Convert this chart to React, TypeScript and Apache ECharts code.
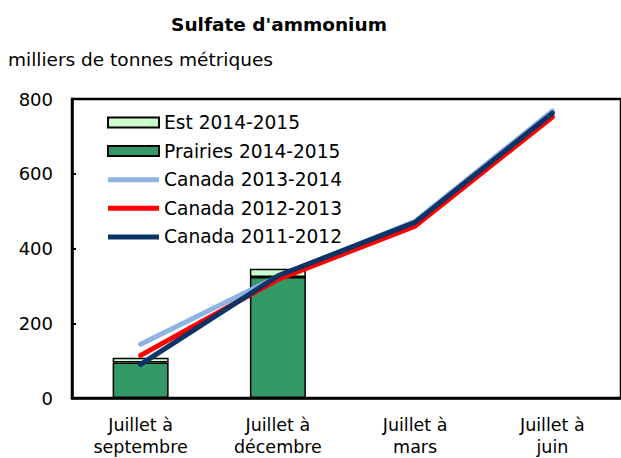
import React, { useEffect, useRef } from "react";
import * as echarts from "echarts";

const categories = ["Juillet à\nseptembre", "Juillet à\ndécembre", "Juillet à\nmars", "Juillet à\njuin"];
const prairies2014 = [95, 324, null, null];
const est2014 = [13, 22, null, null];
const canada2013 = [144, 325, 473, 768];
const canada2012 = [114, 317, 460, 752];
const canada2011 = [90, 327, 470, 762];
const yTicks = { min: 0, max: 800, interval: 200 };

const FONT = "DejaVu Sans";
const C13 = "#8db3e2";
const C12 = "#ff0000";
const C11 = "#0b3466";
const LINE_ICON = "path://M0,0L51,0L51,5L0,5Z";

export default function App() {
  const ref = useRef<HTMLDivElement>(null);
  useEffect(() => {
    if (!ref.current) return;
    const chart = echarts.init(ref.current, null, { renderer: "svg" });
    const lineSeries = (name: string, data: number[], color: string) => ({
      name,
      type: "line",
      data,
      symbol: "none",
      lineStyle: { color, width: 5, cap: "round", join: "round" },
      itemStyle: { color },
      z: 3,
    });
    const lineLegend = (name: string, color: string) => ({
      name,
      icon: LINE_ICON,
      itemStyle: { color, borderWidth: 0 },
    });
    chart.setOption({
      animation: false,
      textStyle: { fontFamily: FONT, color: "#000" },
      title: {
        text: "Sulfate d'ammonium",
        left: 274,
        top: 10,
        textAlign: "center",
        textStyle: { fontFamily: FONT, fontWeight: "bold", fontSize: 18.5, color: "#000" },
      },
      graphic: [
        {
          type: "text",
          left: 8,
          top: 50,
          style: { text: "milliers de tonnes métriques", font: `18.5px "${FONT}"`, fill: "#000" },
        },
      ],
      legend: {
        orient: "vertical",
        left: 107,
        top: 113,
        padding: 0,
        itemWidth: 51,
        itemHeight: 10,
        itemGap: 9.6,
        data: [
          { name: "Est 2014-2015", icon: "rect" },
          { name: "Prairies 2014-2015", icon: "rect" },
          lineLegend("Canada 2013-2014", C13),
          lineLegend("Canada 2012-2013", C12),
          lineLegend("Canada 2011-2012", C11),
        ],
        textStyle: { fontFamily: FONT, fontSize: 18.6, color: "#000", lineHeight: 18 },
      },
      grid: { left: 72, top: 99, width: 550, bottom: 57.5, show: true, borderColor: "#000", borderWidth: 2.5, backgroundColor: "transparent" },
      xAxis: {
        type: "category",
        data: categories,
        boundaryGap: true,
        axisLine: { lineStyle: { color: "#000", width: 2.5 } },
        axisTick: { inside: true, length: 6, lineStyle: { color: "#000", width: 2 } },
        axisLabel: { fontFamily: FONT, fontSize: 17.5, color: "#000", lineHeight: 22, margin: 16 },
      },
      yAxis: {
        type: "value",
        min: yTicks.min,
        max: yTicks.max,
        interval: yTicks.interval,
        axisLine: { show: true, lineStyle: { color: "#000", width: 2.5 } },
        axisTick: { show: true, inside: true, length: 4, lineStyle: { color: "#000", width: 2 } },
        splitLine: { show: false },
        axisLabel: { fontFamily: FONT, fontSize: 18, color: "#000", margin: 19 },
      },
      series: [
        {
          name: "Prairies 2014-2015",
          type: "bar",
          stack: "b",
          data: prairies2014,
          barWidth: 56,
          itemStyle: { color: "#339966", borderColor: "#000", borderWidth: 1.5 },
          z: 2,
        },
        {
          name: "Est 2014-2015",
          type: "bar",
          stack: "b",
          data: est2014,
          barWidth: 56,
          itemStyle: { color: "#ccffcc", borderColor: "#000", borderWidth: 1.5 },
          z: 2,
        },
        lineSeries("Canada 2013-2014", canada2013, C13),
        lineSeries("Canada 2012-2013", canada2012, C12),
        lineSeries("Canada 2011-2012", canada2011, C11),
      ],
    });
    return () => chart.dispose();
  }, []);
  return <div ref={ref} style={{ position: "absolute", left: 0, top: 0, width: 621, height: 458 }} />;
}
